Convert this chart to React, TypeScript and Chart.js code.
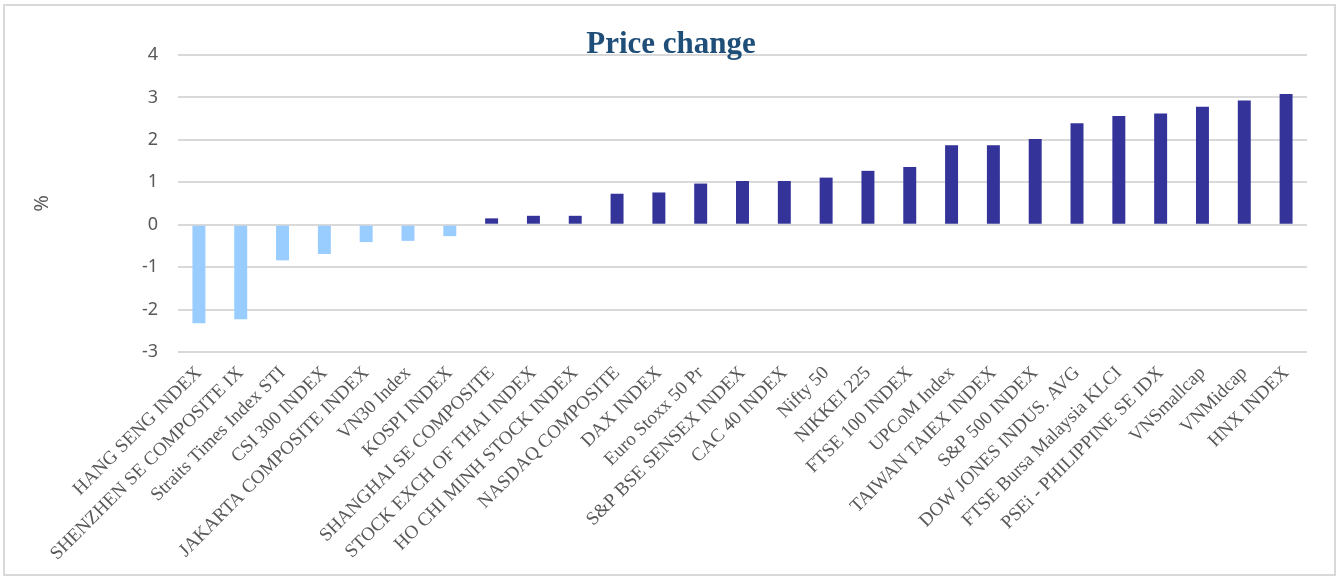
import React, { useEffect, useRef } from 'react';
import { Chart, registerables } from 'chart.js';

Chart.register(...registerables);

const categories = [
  'HANG SENG INDEX',
  'SHENZHEN SE COMPOSITE IX',
  'Straits Times Index STI',
  'CSI 300 INDEX',
  'JAKARTA COMPOSITE INDEX',
  'VN30 Index',
  'KOSPI INDEX',
  'SHANGHAI SE COMPOSITE',
  'STOCK EXCH OF THAI INDEX',
  'HO CHI MINH STOCK INDEX',
  'NASDAQ COMPOSITE',
  'DAX INDEX',
  'Euro Stoxx 50 Pr',
  'S&P BSE SENSEX INDEX',
  'CAC 40 INDEX',
  'Nifty 50',
  'NIKKEI 225',
  'FTSE 100 INDEX',
  'UPCoM Index',
  'TAIWAN TAIEX INDEX',
  'S&P 500 INDEX',
  'DOW JONES INDUS. AVG',
  'FTSE Bursa Malaysia KLCI',
  'PSEi - PHILIPPINE SE IDX',
  'VNSmallcap',
  'VNMidcap',
  'HNX INDEX',
];

const priceChange = [
  -2.32, -2.23, -0.84, -0.69, -0.41, -0.38, -0.27, 0.15, 0.21, 0.21, 0.73, 0.76, 0.97,
  1.03, 1.03, 1.11, 1.27, 1.36, 1.87, 1.87, 2.02, 2.39, 2.56, 2.62, 2.78, 2.93, 3.08,
];

const yMin = -3;
const yMax = 4;
const yStep = 1;
const titleText = 'Price change';
const yAxisTitle = '%';

const NEG_COLOR = '#99CCFF';
const POS_COLOR = '#333399';

const titlePlugin = {
  id: 'customTitle',
  afterDraw(chart: any) {
    const ctx = chart.ctx;
    ctx.save();
    ctx.font = 'bold 31px "Liberation Serif"';
    ctx.fillStyle = '#1F4E79';
    ctx.textAlign = 'center';
    ctx.textBaseline = 'alphabetic';
    ctx.fillText(titleText, 671, 53);
    ctx.restore();
  },
};

export default function App() {
  const canvasRef = useRef<HTMLCanvasElement | null>(null);

  useEffect(() => {
    if (!canvasRef.current) return;
    const chart = new Chart(canvasRef.current, {
      type: 'bar',
      data: {
        labels: categories,
        datasets: [
          {
            data: priceChange,
            backgroundColor: priceChange.map((v) => (v < 0 ? NEG_COLOR : POS_COLOR)),
            barPercentage: 0.31,
            categoryPercentage: 1,
          },
        ],
      },
      options: {
        responsive: false,
        animation: false,
        layout: { padding: { left: 30, right: 34, top: 55, bottom: 0 } },
        plugins: {
          legend: { display: false },
          title: { display: false },
          tooltip: { enabled: false },
        },
        scales: {
          x: {
            grid: { display: false },
            border: { display: false },
            ticks: {
              autoSkip: false,
              minRotation: 45,
              maxRotation: 45,
              color: '#595959',
              padding: 2,
              font: { family: '"Liberation Serif"', size: 19 },
            },
            afterFit: (s: any) => {
              s.height = 229;
            },
          },
          y: {
            min: yMin,
            max: yMax,
            grid: { color: '#D9D9D9', lineWidth: 2, drawTicks: false },
            border: { display: false },
            ticks: {
              stepSize: yStep,
              padding: 20,
              color: '#595959',
              font: { family: '"Noto Sans"', size: 18 },
            },
            title: {
              display: true,
              text: yAxisTitle,
              color: '#595959',
              padding: 0,
              font: { family: '"Noto Sans"', size: 20 },
            },
            afterFit: (s: any) => {
              s.width = 148;
            },
          },
        },
      },
      plugins: [titlePlugin],
    });
    return () => chart.destroy();
  }, []);

  return (
    <div style={{ position: 'fixed', left: 0, top: 0, width: 1341, height: 581, background: '#fff' }}>
      <div
        style={{
          position: 'absolute',
          left: 3,
          top: 4,
          width: 1333,
          height: 572,
          border: '2px solid #D9D9D9',
          boxSizing: 'border-box',
        }}
      />
      <canvas
        ref={canvasRef}
        width={1341}
        height={581}
        style={{ position: 'absolute', left: 0, top: 0, display: 'block' }}
      />
    </div>
  );
}
